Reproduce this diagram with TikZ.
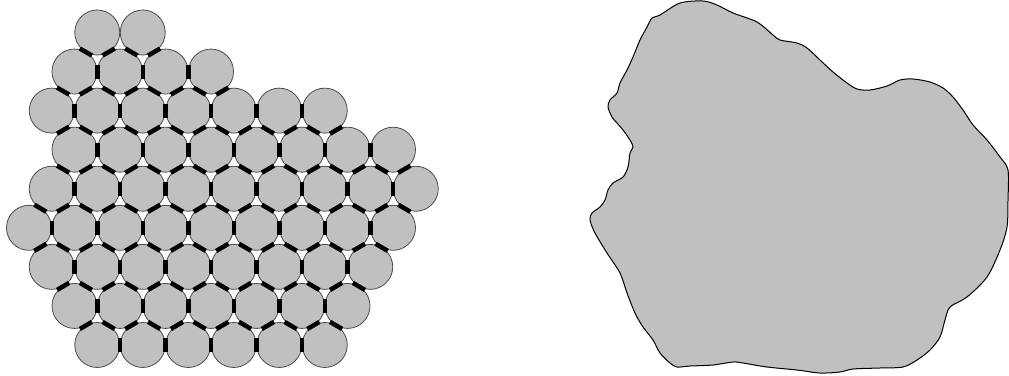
\documentclass[tikz,border=0pt]{standalone}
\usetikzlibrary{calc}

\definecolor{ballgray}{RGB}{192,192,192}

% short thick bar across the contact of two touching balls
\newcommand{\bond}[2]{\draw[bond] ($(#1)!0.5!(#2)!7pt!90:(#2)$) -- ($(#1)!0.5!(#2)!7pt!-90:(#2)$);}

\begin{document}
\begin{tikzpicture}[
    x=1pt, y=-1pt,
    ball/.style={circle, draw=black!70, fill=ballgray, line width=0.8pt, minimum size=45pt, inner sep=0pt},
    bond/.style={line width=4.5pt, black},
    grain/.style={draw=black, fill=ballgray, line width=1pt}
]

\useasboundingbox (0,0) rectangle (1009,375);

% --- Packed balls, row by row ---
\foreach \r/\kmin/\kmax [evaluate=\kmin as \knext using int(\kmin+2)] in {1/3/5, 2/2/8, 3/1/13, 4/2/16, 5/1/17, 6/0/16, 7/1/15, 8/2/14, 9/3/13}
{
    \foreach \k in {\kmin,\knext,...,\kmax}
        \node[ball] (c\r-\k) at ({29+22.75*\k}, {32.5+39.06*(\r-1)}) {};
}

% --- Bonds within each row ---
\foreach \r/\lo/\hi [evaluate=\lo as \lonext using int(\lo+2)] in {2/2/6, 3/1/11, 4/2/14, 5/1/15, 6/0/14, 7/1/13, 8/2/12, 9/3/11}
{
    \foreach \k [evaluate=\k as \kk using int(\k+2)] in {\lo,\lonext,...,\hi}
    {
        \bond{c\r-\k}{c\r-\kk}
    }
}

% --- Bonds between neighbouring rows ---
\foreach \r/\s/\dra/\drb/\dla/\dlb [evaluate=\dra as \dranext using int(\dra+2), evaluate=\dla as \dlanext using int(\dla+2)] in {1/2/3/5/3/5, 2/3/2/8/2/8, 3/4/1/13/3/13, 4/5/2/16/2/16, 5/6/1/15/1/17, 6/7/0/14/2/16, 7/8/1/13/3/15, 8/9/2/12/4/14}
{
    \foreach \k [evaluate=\k as \kr using int(\k+1)] in {\dra,\dranext,...,\drb}
    {
        \bond{c\r-\k}{c\s-\kr}
    }
    \foreach \k [evaluate=\k as \kl using int(\k-1)] in {\dla,\dlanext,...,\dlb}
    {
        \bond{c\r-\k}{c\s-\kl}
    }
}

% --- Sintered grain ---
\draw[grain] plot[smooth cycle, tension=0.5] coordinates {
    (660,15) (680,3) (703,1) (717,5) (733,13) (757,22) (773,35) (780,40)
    (797,43) (807,48) (820,60) (833,72) (847,83) (857,89) (870,90) (887,86)
    (900,80) (913,79) (930,82) (943,88) (953,97) (963,110) (973,125) (987,140)
    (1000,157) (1008,170) (1008,200) (1007,227) (1000,250) (987,277) (967,297)
    (950,307) (945,320) (940,337) (930,350) (917,360) (903,367) (880,368)
    (853,369) (840,372) (820,373) (797,370) (767,367) (743,363) (733,362)
    (713,365) (690,366) (677,367) (670,363) (660,353) (653,340) (643,327)
    (635,313) (627,293) (620,273) (607,253) (595,233) (590,220) (592,213)
    (600,207) (605,200) (608,190) (613,183) (623,177) (628,167) (630,153)
    (633,147) (630,140) (623,130) (617,123) (612,117) (608,107) (610,100)
    (617,93) (620,83) (627,70) (633,57) (640,40) (647,27) (652,18)};

\end{tikzpicture}
\end{document}
